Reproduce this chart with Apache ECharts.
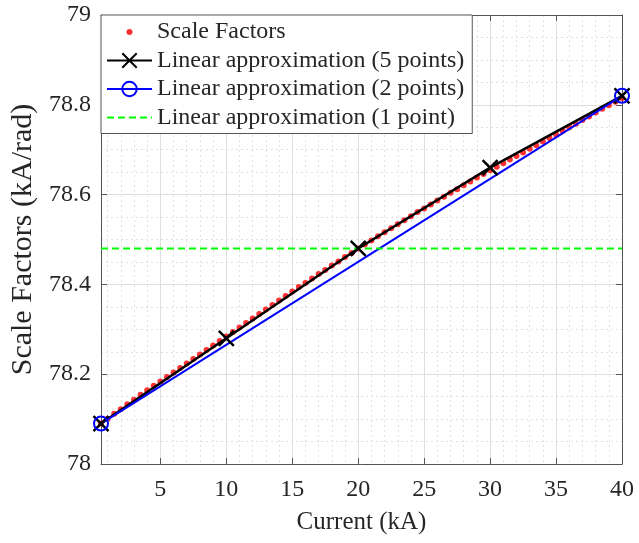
<!DOCTYPE html>
<html>
<head>
<meta charset="utf-8">
<script src="https://cdn.jsdelivr.net/npm/echarts@6/dist/echarts.min.js"></script>
<style>
  html, body { margin: 0; padding: 0; background: #fff; }
  #chart { width: 639px; height: 543px; }
</style>
</head>
<body>
<div id="chart"></div>
<script>
// Measured scale factors versus current (kA)
const currentKA = [
  0.5, 1, 1.5, 2, 2.5, 3, 3.5, 4, 4.5, 5,
  5.5, 6, 6.5, 7, 7.5, 8, 8.5, 9, 9.5, 10,
  10.5, 11, 11.5, 12, 12.5, 13, 13.5, 14, 14.5, 15,
  15.5, 16, 16.5, 17, 17.5, 18, 18.5, 19, 19.5, 20,
  20.5, 21, 21.5, 22, 22.5, 23, 23.5, 24, 24.5, 25,
  25.5, 26, 26.5, 27, 27.5, 28, 28.5, 29, 29.5, 30,
  30.5, 31, 31.5, 32, 32.5, 33, 33.5, 34, 34.5, 35,
  35.5, 36, 36.5, 37, 37.5, 38, 38.5, 39, 39.5, 40
];
const scaleFactors = [
  78.090, 78.101, 78.112, 78.122, 78.133, 78.143, 78.154, 78.164, 78.174, 78.184,
  78.194, 78.204, 78.214, 78.224, 78.234, 78.244, 78.254, 78.264, 78.274, 78.284,
  78.294, 78.304, 78.314, 78.324, 78.334, 78.344, 78.354, 78.364, 78.374, 78.384,
  78.394, 78.403, 78.413, 78.423, 78.432, 78.442, 78.451, 78.461, 78.470, 78.480,
  78.489, 78.498, 78.507, 78.516, 78.525, 78.534, 78.543, 78.552, 78.561, 78.569,
  78.578, 78.587, 78.595, 78.604, 78.612, 78.621, 78.629, 78.638, 78.646, 78.654,
  78.662, 78.670, 78.678, 78.686, 78.694, 78.702, 78.710, 78.718, 78.726, 78.734,
  78.742, 78.750, 78.758, 78.766, 78.774, 78.783, 78.791, 78.799, 78.807, 78.815
];

// Linear approximations
const fivePointX = [0.5, 10, 20, 30, 40];
const fivePointY = [78.09, 78.28, 78.48, 78.66, 78.82];
const twoPointX = [0.5, 40];
const twoPointY = [78.09, 78.82];
const onePointX = [0.5, 40];
const onePointY = [78.48, 78.48];

// Axis ticks
const xTickValues = [5, 10, 15, 20, 25, 30, 35, 40];
const xMinorValues = [1, 2, 3, 4, 6, 7, 8, 9, 11, 12, 13, 14, 16, 17, 18, 19,
  21, 22, 23, 24, 26, 27, 28, 29, 31, 32, 33, 34, 36, 37, 38, 39];

const seriesNames = [
  'Scale Factors',
  'Linear approximation (5 points)',
  'Linear approximation (2 points)',
  'Linear approximation (1 point)'
];

const pairs = (xs, ys) => xs.map((x, i) => [x, ys[i]]);

const FONT = 'Liberation Serif';
const AXIS_COLOR = '#555';
const TEXT_COLOR = '#262626';
const CLEAR = 'rgba(0,0,0,0)';

const chart = echarts.init(document.getElementById('chart'), null, { renderer: 'canvas' });

chart.setOption({
  animation: false,
  backgroundColor: '#fff',
  grid: { left: 101, right: 17, top: 15, bottom: 79, containLabel: false },
  legend: {
    orient: 'vertical',
    left: 101,
    top: 15,
    itemWidth: 45,
    itemHeight: 18,
    itemGap: 4.5,
    padding: [5, 8, 4, 5],
    backgroundColor: '#fff',
    borderColor: AXIS_COLOR,
    borderWidth: 1,
    borderRadius: 0,
    textStyle: { fontFamily: FONT, fontSize: 24, color: TEXT_COLOR },
    data: [
      { name: seriesNames[0], icon: 'path://M0 0M45 18M19.5 9a3 3 0 1 0 6 0a3 3 0 1 0 -6 0z' },
      seriesNames[1],
      seriesNames[2],
      { name: seriesNames[3], itemStyle: { color: CLEAR, borderColor: CLEAR, borderWidth: 0, opacity: 0 } }
    ]
  },
  xAxis: [
    {
      type: 'value', min: 0.5, max: 40, position: 'bottom',
      name: 'Current (kA)', nameLocation: 'middle', nameGap: 46,
      nameTextStyle: { fontFamily: FONT, fontSize: 25, color: TEXT_COLOR },
      axisLine: { show: true, onZero: false, lineStyle: { color: AXIS_COLOR, width: 1 } },
      axisTick: { show: true, inside: true, length: 6, customValues: xTickValues, lineStyle: { color: AXIS_COLOR } },
      axisLabel: { show: true, customValues: xTickValues, margin: 14, fontFamily: FONT, fontSize: 24, color: TEXT_COLOR },
      splitLine: { show: true, lineStyle: { color: '#dedede', width: 1 } }
    },
    {
      type: 'value', min: 0.5, max: 40, position: 'top',
      axisLine: { show: true, onZero: false, lineStyle: { color: AXIS_COLOR, width: 1 } },
      axisTick: { show: true, inside: true, length: 6, customValues: xTickValues, lineStyle: { color: AXIS_COLOR } },
      axisLabel: { show: false },
      splitLine: { show: false }
    },
    {
      type: 'value', min: 0.5, max: 40, position: 'bottom',
      axisLine: { show: false },
      axisTick: { show: false, customValues: xMinorValues },
      axisLabel: { show: false },
      splitLine: { show: true, lineStyle: { color: '#e2e2e2', width: 1, type: [2, 3] } }
    }
  ],
  yAxis: [
    {
      type: 'value', min: 78, max: 79, interval: 0.2, position: 'left',
      name: 'Scale Factors (kA/rad)', nameLocation: 'middle', nameGap: 61,
      nameTextStyle: { fontFamily: FONT, fontSize: 30, color: TEXT_COLOR },
      axisLine: { show: true, onZero: false, lineStyle: { color: AXIS_COLOR, width: 1 } },
      axisTick: { show: true, inside: true, length: 6, lineStyle: { color: AXIS_COLOR } },
      axisLabel: {
        show: true, margin: 10, fontFamily: FONT, fontSize: 24, color: TEXT_COLOR,
        formatter: v => (Math.round(v * 10) / 10).toString()
      },
      splitLine: { show: true, lineStyle: { color: '#dedede', width: 1 } },
      minorTick: { show: false, splitNumber: 4 },
      minorSplitLine: { show: true, lineStyle: { color: '#e2e2e2', width: 1, type: [2, 3] } }
    },
    {
      type: 'value', min: 78, max: 79, interval: 0.2, position: 'right',
      axisLine: { show: true, onZero: false, lineStyle: { color: AXIS_COLOR, width: 1 } },
      axisTick: { show: true, inside: true, length: 6, lineStyle: { color: AXIS_COLOR } },
      axisLabel: { show: false },
      splitLine: { show: false }
    }
  ],
  series: [
    {
      name: seriesNames[0],
      type: 'scatter',
      xAxisIndex: 0, yAxisIndex: 0,
      symbol: 'circle',
      symbolSize: 6,
      itemStyle: { color: '#ff0000' },
      data: pairs(currentKA, scaleFactors)
    },
    {
      name: seriesNames[1],
      type: 'line',
      xAxisIndex: 0, yAxisIndex: 0,
      symbol: 'path://M0 0L10 10M10 0L0 10',
      symbolSize: 15,
      showAllSymbol: true,
      lineStyle: { color: '#000', width: 2.5 },
      itemStyle: { color: '#000', borderColor: '#000', borderWidth: 2.5 },
      data: pairs(fivePointX, fivePointY)
    },
    {
      name: seriesNames[2],
      type: 'line',
      xAxisIndex: 0, yAxisIndex: 0,
      symbol: 'circle',
      symbolSize: 14,
      lineStyle: { color: '#0000ff', width: 2 },
      itemStyle: { color: CLEAR, borderColor: '#0000ff', borderWidth: 2 },
      data: pairs(twoPointX, twoPointY)
    },
    {
      name: seriesNames[3],
      type: 'line',
      xAxisIndex: 0, yAxisIndex: 0,
      symbol: 'none',
      lineStyle: { color: '#00ff00', width: 2, type: [7, 4] },
      itemStyle: { color: '#00ff00' },
      data: pairs(onePointX, onePointY)
    }
  ]
});
</script>
</body>
</html>
